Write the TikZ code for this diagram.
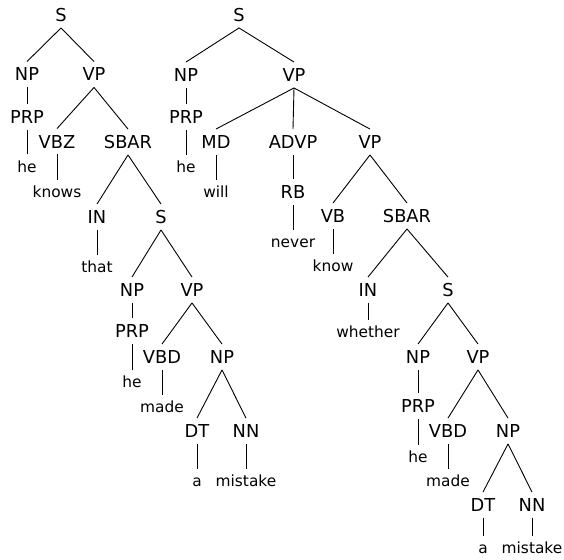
\documentclass[tikz,border=0pt]{standalone}
\usepackage{fontspec}
\setmainfont{DejaVu Sans}
\tikzset{
  tag/.style={font=\fontsize{17.8}{20}\selectfont, text height=13pt, text depth=0pt, inner sep=6pt},
  word/.style={font=\fontsize{15.4}{18}\selectfont, text height=11.7pt, text depth=0pt, inner xsep=2pt, inner ysep=6pt}
}
\begin{document}
\begin{tikzpicture}[x=1pt,y=-1pt,line width=0.9pt]
      \useasboundingbox (0,0) rectangle (564,559);
      \draw
        (61,15) node[tag] (aS){S}
        (27,74.5) node[tag] (aNP){NP}
        (94,74.5) node[tag] (aVP){VP}
        (27,117) node[tag] (aPRP){PRP}
        (27,166.5) node[word] (ahe){he}
        (57,141.5) node[tag] (aVBZ){VBZ}
        (57,192) node[word] (aknows){knows}
        (128,142) node[tag] (aSBAR){SBAR}
        (97,217) node[tag] (aIN){IN}
        (97,267) node[word] (athat){that}
        (161,217) node[tag] (aS2){S}
        (132,290) node[tag] (aNP2){NP}
        (192,290) node[tag] (aVP2){VP}
        (132,331) node[tag] (aPRP2){PRP}
        (132,382) node[word] (ahe2){he}
        (162,357) node[tag] (aVBD){VBD}
        (162,407) node[word] (amade){made}
        (222,357) node[tag] (aNP3){NP}
        (197,431) node[tag] (aDT){DT}
        (246,431) node[tag] (aNN){NN}
        (197,481) node[word] (aa){a}
        (246,481) node[word] (amistake){mistake};
      \draw
        (239,15) node[tag] (bS){S}
        (186,75) node[tag] (bNP){NP}
        (294,75) node[tag] (bVP){VP}
        (186,117) node[tag] (bPRP){PRP}
        (186,167) node[word] (bhe){he}
        (216,142) node[tag] (bMD){MD}
        (216,192) node[word] (bwill){will}
        (293,142) node[tag] (bADVP){ADVP}
        (293,192) node[tag] (bRB){RB}
        (293,242) node[word] (bnever){never}
        (370,142) node[tag] (bVP2){VP}
        (333,216) node[tag] (bVB){VB}
        (333,266) node[word] (bknow){know}
        (407,216) node[tag] (bSBAR){SBAR}
        (368,290) node[tag] (bIN){IN}
        (368,332) node[word] (bwhether){whether}
        (448,290) node[tag] (bS2){S}
        (418,357) node[tag] (bNP2){NP}
        (478,357) node[tag] (bVP3){VP}
        (418,406) node[tag] (bPRP2){PRP}
        (418,457) node[word] (bhe2){he}
        (448,431) node[tag] (bVBD){VBD}
        (448,481) node[word] (bmade){made}
        (508,431) node[tag] (bNP3){NP}
        (483,505) node[tag] (bDT){DT}
        (532,505) node[tag] (bNN){NN}
        (483,548) node[word] (ba){a}
        (532,548) node[word] (bmistake){mistake};
      % left tree
      \begin{scope}[-]
        \draw (aS.south) to (aNP.north);
        \draw (aS.south) to (aVP.north);
        \draw (aNP.south) to (aPRP.north);
        \draw (aPRP.south) to (ahe.north);
        \draw (aVP.south) to (aVBZ.north);
        \draw (aVP.south) to (aSBAR.north);
        \draw (aVBZ.south) to (aknows.north);
        \draw (aSBAR.south) to (aIN.north);
        \draw (aSBAR.south) to (aS2.north);
        \draw (aIN.south) to (athat.north);
        \draw (aS2.south) to (aNP2.north);
        \draw (aS2.south) to (aVP2.north);
        \draw (aNP2.south) to (aPRP2.north);
        \draw (aPRP2.south) to (ahe2.north);
        \draw (aVP2.south) to (aVBD.north);
        \draw (aVP2.south) to (aNP3.north);
        \draw (aVBD.south) to (amade.north);
        \draw (aNP3.south) to (aDT.north);
        \draw (aNP3.south) to (aNN.north);
        \draw (aDT.south) to (aa.north);
        \draw (aNN.south) to (amistake.north);
      \end{scope}
      % right tree
      \begin{scope}[-]
        \draw (bS.south) to (bNP.north);
        \draw (bS.south) to (bVP.north);
        \draw (bNP.south) to (bPRP.north);
        \draw (bPRP.south) to (bhe.north);
        \draw (bVP.south) to (bMD.north);
        \draw (bVP.south) to (bADVP.north);
        \draw (bVP.south) to (bVP2.north);
        \draw (bMD.south) to (bwill.north);
        \draw (bADVP.south) to (bRB.north);
        \draw (bRB.south) to (bnever.north);
        \draw (bVP2.south) to (bVB.north);
        \draw (bVP2.south) to (bSBAR.north);
        \draw (bVB.south) to (bknow.north);
        \draw (bSBAR.south) to (bIN.north);
        \draw (bSBAR.south) to (bS2.north);
        \draw (bIN.south) to (bwhether.north);
        \draw (bS2.south) to (bNP2.north);
        \draw (bS2.south) to (bVP3.north);
        \draw (bNP2.south) to (bPRP2.north);
        \draw (bPRP2.south) to (bhe2.north);
        \draw (bVP3.south) to (bVBD.north);
        \draw (bVP3.south) to (bNP3.north);
        \draw (bVBD.south) to (bmade.north);
        \draw (bNP3.south) to (bDT.north);
        \draw (bNP3.south) to (bNN.north);
        \draw (bDT.south) to (ba.north);
        \draw (bNN.south) to (bmistake.north);
      \end{scope}
    \end{tikzpicture}
\end{document}
